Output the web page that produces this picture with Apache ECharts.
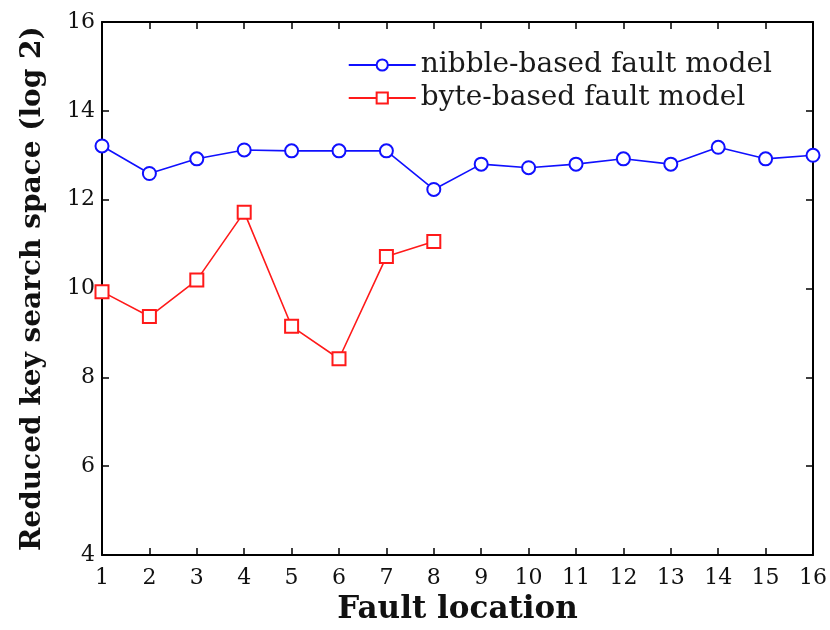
<!DOCTYPE html>
<html><head><meta charset="utf-8">
<script src="https://cdn.jsdelivr.net/npm/echarts@6/dist/echarts.min.js"></script>
<style>html,body{margin:0;padding:0;background:#fff}#c{width:830px;height:630px}</style>
</head><body><div id="c"></div>
<script>
const faultLocations = [1,2,3,4,5,6,7,8,9,10,11,12,13,14,15,16];
const nibbleValues = [13.21,12.59,12.92,13.12,13.1,13.1,13.1,12.23,12.8,12.72,12.8,12.92,12.8,13.18,12.92,13.0];
const byteLocations = [1,2,3,4,5,6,7,8];
const byteValues = [9.93,9.37,10.19,11.72,9.15,8.42,10.72,11.06];
const seriesNames = ['nibble-based fault model','byte-based fault model'];
const xTitle = 'Fault location';
const yTitle = 'Reduced key search space (log 2)';

const font = '"DejaVu Serif",serif';
const chart = echarts.init(document.getElementById('c'), null, {renderer:'canvas'});
const axisCommon = {
  axisLine:{show:true,onZero:false,lineStyle:{color:'#000',width:2}},
  axisTick:{show:true,inside:true,length:7,lineStyle:{color:'#000',width:1.5}},
  splitLine:{show:false}
};
chart.setOption({
  animation:false,
  grid:{left:102,right:17,top:22,bottom:67,containLabel:false},
  legend:{
    right:53, top:46, orient:'vertical', itemGap:5, itemWidth:67, itemHeight:14,
    textStyle:{fontFamily:font,fontSize:28,color:'#1a1a1a'},
    data:seriesNames
  },
  xAxis:[
    Object.assign({type:'value',min:1,max:16,interval:1,position:'bottom',
      name:xTitle,nameLocation:'middle',nameGap:34,
      nameTextStyle:{fontFamily:font,fontSize:31,fontWeight:'bold',color:'#111'},
      axisLabel:{fontFamily:font,fontSize:22,color:'#111',margin:12}},axisCommon),
    Object.assign({type:'value',min:1,max:16,interval:1,position:'top',axisLabel:{show:false}},axisCommon)
  ],
  yAxis:[
    Object.assign({type:'value',min:4,max:16,interval:2,position:'left',
      name:yTitle,nameLocation:'middle',nameGap:55,
      nameTextStyle:{fontFamily:font,fontSize:28,fontWeight:'bold',color:'#111'},
      axisLabel:{fontFamily:font,fontSize:22,color:'#111',margin:7}},axisCommon),
    Object.assign({type:'value',min:4,max:16,interval:2,position:'right',axisLabel:{show:false}},axisCommon)
  ],
  series:[
    {name:seriesNames[0],type:'line',symbol:'emptyCircle',symbolSize:13,
     data:faultLocations.map((x,i)=>[x,nibbleValues[i]]),
     itemStyle:{color:'#1010ff',borderWidth:1.4},lineStyle:{color:'#1010ff',width:1.6}},
    {name:seriesNames[1],type:'line',symbol:'emptyRect',symbolSize:13,
     data:byteLocations.map((x,i)=>[x,byteValues[i]]),
     itemStyle:{color:'#ff1a1a',borderWidth:1.4},lineStyle:{color:'#ff1a1a',width:1.6}}
  ]
});
</script></body></html>
